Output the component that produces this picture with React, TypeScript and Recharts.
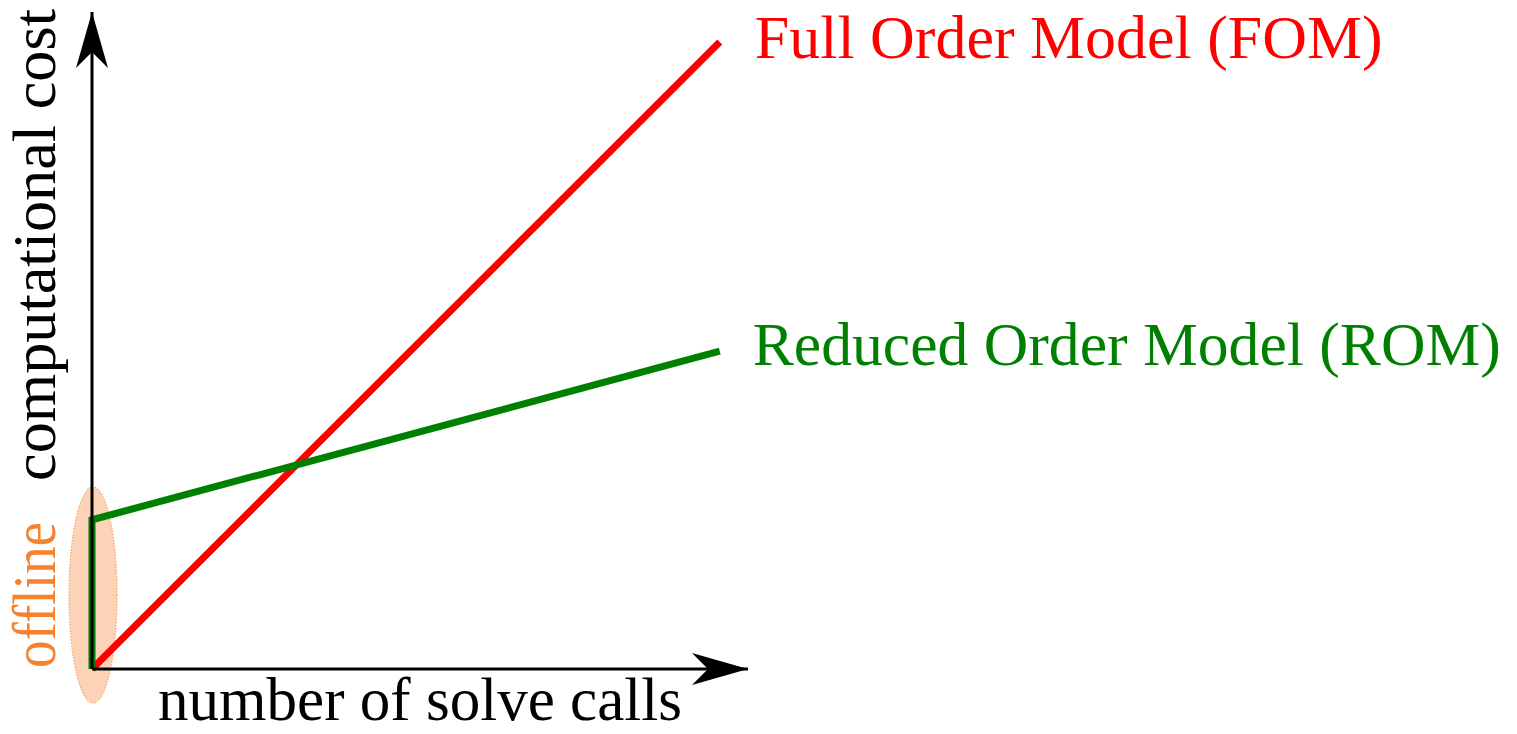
import React from 'react';
import { LineChart, Line, XAxis, YAxis, ReferenceDot } from 'recharts';

// Data (arbitrary units): number of solve calls vs computational cost
const callsFOM = [0, 10];
const costFOM = [0, 10];
const callsROM = [0, 0, 10];
const costROM = [0, 2.38, 5.07];
const seriesNames = ['Full Order Model (FOM)', 'Reduced Order Model (ROM)'];
const axisTitles = { x: 'number of solve calls', y: 'computational cost', offline: 'offline' };
const axisMax = { x: 10.45, y: 10.48 };
const offlineCenter = { x: 0, y: 1.18 };

const fomData = callsFOM.map((x, i) => ({ x, y: costFOM[i] }));
const romData = callsROM.map((x, i) => ({ x, y: costROM[i] }));

const FONT = '"Liberation Serif", "Times New Roman", serif';
const RED = '#ff0000';
const GREEN = '#008000';
const ORANGE = '#f7822e';

const EndLabel = (props: any) => {
  const { x, y, index, text, color, count, dx, dy, len } = props;
  if (index !== count - 1) return null;
  return (
    <text
      x={x + dx}
      y={y + dy}
      fill={color}
      fontFamily={FONT}
      fontSize={62}
      textLength={len}
      lengthAdjust="spacingAndGlyphs"
    >
      {text}
    </text>
  );
};

const XTitle = (props: any) => {
  const vb = props.viewBox || { x: 0, y: 0 };
  return (
    <text
      x={vb.x + 66}
      y={vb.y + 51}
      fill="#000"
      fontFamily={FONT}
      fontSize={61}
      textLength={524}
      lengthAdjust="spacingAndGlyphs"
    >
      {axisTitles.x}
    </text>
  );
};

const YTitle = (props: any) => {
  const vb = props.viewBox || { x: 0, y: 0, width: 0, height: 0 };
  const bx = vb.x + 43;
  const y1 = vb.y + 469;
  const y2 = vb.y + vb.height - 1;
  return (
    <g>
      <text
        x={bx}
        y={y1}
        transform={`rotate(-90, ${bx}, ${y1})`}
        fill="#000"
        fontFamily={FONT}
        fontSize={62}
        textLength={472}
        lengthAdjust="spacingAndGlyphs"
      >
        {axisTitles.y}
      </text>
      <text
        x={bx}
        y={y2}
        transform={`rotate(-90, ${bx}, ${y2})`}
        fill={ORANGE}
        fontFamily={FONT}
        fontSize={61}
        textLength={146}
        lengthAdjust="spacingAndGlyphs"
      >
        {axisTitles.offline}
      </text>
    </g>
  );
};

const XArrow = (props: any) => {
  const { cx, cy } = props;
  return (
    <path
      d={`M ${cx} ${cy} L ${cx - 56} ${cy - 16} Q ${cx - 44} ${cy - 4} ${cx - 40} ${cy} Q ${cx - 44} ${cy + 4} ${cx - 56} ${cy + 16} Z`}
      fill="#000"
    />
  );
};

const YArrow = (props: any) => {
  const { cx, cy } = props;
  return (
    <path
      d={`M ${cx} ${cy} L ${cx - 16} ${cy + 56} Q ${cx - 4} ${cy + 44} ${cx} ${cy + 40} Q ${cx + 4} ${cy + 44} ${cx + 16} ${cy + 56} Z`}
      fill="#000"
    />
  );
};

const OfflineEllipse = (props: any) => {
  const { cx, cy } = props;
  return (
    <ellipse
      cx={cx + 1}
      cy={cy}
      rx={24}
      ry={108}
      fill="#f7822e"
      fillOpacity={0.35}
      stroke="#f6a468"
      strokeWidth={1.2}
      strokeDasharray="1.5 1.5"
    />
  );
};

export default function App() {
  return (
    <div style={{ width: 1517, height: 734, marginLeft: -8, marginTop: -8 }}>
      <LineChart
        width={1517}
        height={734}
        margin={{ top: 12, right: 769, bottom: 5, left: 12 }}
        style={{ overflow: 'visible' }}
      >
        <ReferenceDot
          x={offlineCenter.x}
          y={offlineCenter.y}
          ifOverflow="visible"
          zIndex={-100}
          shape={<OfflineEllipse />}
        />
        <XAxis
          type="number"
          dataKey="x"
          domain={[0, axisMax.x]}
          height={60}
          tick={false}
          tickLine={false}
          axisLine={{ stroke: '#000', strokeWidth: 3 }}
          label={<XTitle />}
        />
        <YAxis
          type="number"
          dataKey="y"
          domain={[0, axisMax.y]}
          width={80}
          tick={false}
          tickLine={false}
          axisLine={{ stroke: '#000', strokeWidth: 3 }}
          label={<YTitle />}
        />
        <Line
          data={fomData}
          dataKey="y"
          stroke={RED}
          strokeWidth={7}
          dot={false}
          activeDot={false}
          isAnimationActive={false}
          label={<EndLabel text={seriesNames[0]} color={RED} count={fomData.length} dx={35} dy={16} len={628} />}
        />
        <Line
          data={romData}
          dataKey="y"
          stroke={GREEN}
          strokeWidth={7}
          dot={false}
          activeDot={false}
          isAnimationActive={false}
          label={<EndLabel text={seriesNames[1]} color={GREEN} count={romData.length} dx={33} dy={14} len={748} />}
        />
        <ReferenceDot x={axisMax.x} y={0} ifOverflow="visible" shape={<XArrow />} />
        <ReferenceDot x={0} y={axisMax.y} ifOverflow="visible" shape={<YArrow />} />
      </LineChart>
    </div>
  );
}
